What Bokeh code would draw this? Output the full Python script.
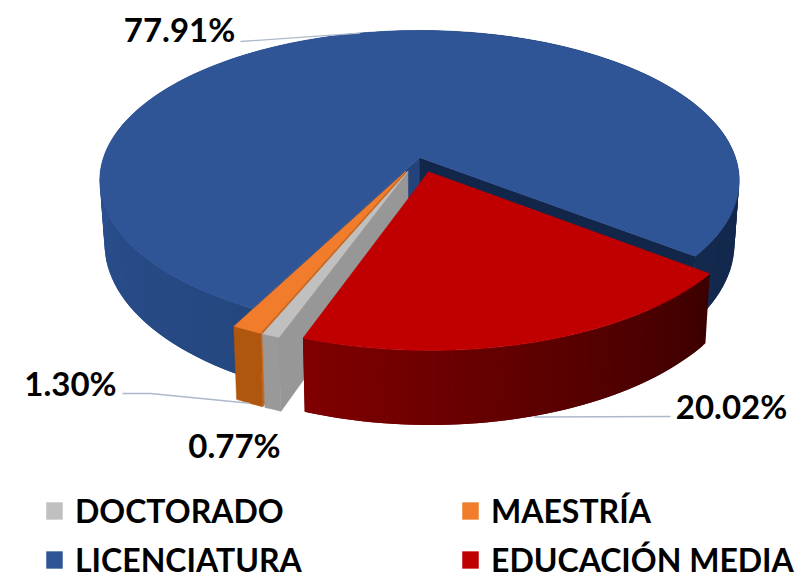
import math
from bokeh.plotting import figure
from bokeh.models import Legend, LegendItem
from bokeh.core.properties import value
from bokeh.embed import file_html
from bokeh.resources import INLINE

# ---- data -------------------------------------------------------------
categories = ["EDUCACIÓN MEDIA", "DOCTORADO", "MAESTRÍA", "LICENCIATURA"]
shares = [20.02, 0.77, 1.30, 77.91]
exploded = [0.1, 0.1, 0.1, 0.0]
top_colors = ["#c00000", "#c0c0c0", "#f17d2c", "#2f5597"]
pct_labels = ["20.02%", "0.77%", "1.30%", "77.91%"]

# ---- projection of the tilted pie ---------------------------------------
START = 127.7
CX, CY, A, B, C = 419.0, 157.0, 146.5, 316.0, -0.153


def proj(u, v, bottom=False):
    d = 1 + C * v
    x = CX + B * u / d
    y = CY + A * v / d
    if bottom:
        y = y + 62 + 0.065 * (y - CY)
        x = CX + (x - CX) * 0.985
    return x, y


def polar(t, off=(0.0, 0.0), r=1.0):
    a = math.radians(t)
    return r * math.sin(a) + off[0], -r * math.cos(a) + off[1]


def lerp_hex(c1, c2, f):
    a = [int(c1[i:i + 2], 16) for i in (1, 3, 5)]
    b = [int(c2[i:i + 2], 16) for i in (1, 3, 5)]
    return "#%02x%02x%02x" % tuple(round(p + (q - p) * f) for p, q in zip(a, b))


W, H = 803, 579
p = figure(width=W, height=H, x_range=(0, W), y_range=(H, 0),
           output_backend="svg", toolbar_location=None, min_border=0,
           outline_line_color=None)
p.axis.visible = False
p.grid.visible = False

# slice geometry from shares
slices = []
t = START
for cat, s, e in zip(categories, shares, exploded):
    span = s * 3.6
    mid = t + span / 2
    off = polar(mid, r=e)
    slices.append(dict(cat=cat, t0=t, t1=t + span, mid=mid, off=off))
    t += span
red, gray, orange, blue = slices


def top_poly(sl, n=180):
    pts = [proj(*sl["off"])]
    for i in range(n + 1):
        th = sl["t0"] + (sl["t1"] - sl["t0"]) * i / n
        pts.append(proj(*polar(th, sl["off"])))
    return [q[0] for q in pts], [q[1] for q in pts]


def side_quads(sl, colorfn, n=60):
    xs, ys, cols = [], [], []
    for i in range(n):
        a0 = sl["t0"] + (sl["t1"] - sl["t0"]) * i / n
        a1 = sl["t0"] + (sl["t1"] - sl["t0"]) * min(i + 2, n) / n  # overlap the next step: no seams
        q = [proj(*polar(a0, sl["off"])), proj(*polar(a1, sl["off"])),
             proj(*polar(a1, sl["off"]), bottom=True), proj(*polar(a0, sl["off"]), bottom=True)]
        xs.append([k[0] for k in q])
        ys.append([k[1] for k in q])
        cols.append(colorfn(sl["t0"] + (sl["t1"] - sl["t0"]) * (i + 0.5) / n))
    p.patches(xs, ys, fill_color=cols, line_color=None)


def side_solid(sl, color, n=8):
    ths = [sl["t0"] + (sl["t1"] - sl["t0"]) * i / n for i in range(n + 1)]
    up = [proj(*polar(th, sl["off"])) for th in ths]
    dn = [proj(*polar(th, sl["off"]), bottom=True) for th in reversed(ths)]
    q = up + dn
    p.patch([k[0] for k in q], [k[1] for k in q], fill_color=color, line_color=color, line_width=0.5)


def wall(sl, th, color):
    q = [proj(*sl["off"]), proj(*polar(th, sl["off"])),
         proj(*polar(th, sl["off"]), bottom=True), proj(*sl["off"], bottom=True)]
    p.patch([k[0] for k in q], [k[1] for k in q], fill_color=color, line_color=color, line_width=0.5)


def top(sl, color):
    xs, ys = top_poly(sl)
    return p.patches([xs], [ys], fill_color=color, line_color=color, line_width=0.5)


# blue slice
def blue_col(th):
    th = th % 360
    if th < 180:  # right-hand side
        return lerp_hex("#0f2342", "#14294e", min(1, th / 130))
    return lerp_hex("#25477f", "#2b5091", min(1, max(0, (th - 207) / 70)))


side_quads(blue, blue_col, n=140)
wall(blue, blue["t0"], "#23437a")
wall(blue, blue["t1"] % 360, "#12264a")
r_blue = top(blue, top_colors[3])

# orange slice
wall(orange, orange["t0"], "#c8661c")
side_solid(orange, "#b0570f")
r_orange = top(orange, top_colors[2])

# gray slice
wall(gray, gray["t0"], "#979797")
side_solid(gray, "#999999")
r_gray = top(gray, top_colors[1])

# red slice
side_quads(red, lambda th: lerp_hex("#3c0000", "#800000", (th - red["t0"]) / (red["t1"] - red["t0"])), n=80)
r_red = top(red, top_colors[0])

# leader lines
LEADER = "#adb9ca"
ax, ay = proj(*polar(blue["mid"], blue["off"]))
p.line([240, ax], [41, ay], line_color=LEADER, line_width=1.3)
ax, ay = proj(*polar(red["mid"], red["off"]), bottom=True)
p.line([ax, 670], [ay + 1, 416], line_color=LEADER, line_width=1.3)
ax, ay = proj(*polar(orange["mid"], orange["off"]), bottom=True)
p.line([122, 150, ax], [393, 393, ay], line_color=LEADER, line_width=1.3)

# percent labels
font = value("Lato")
lab_x = [731, 234, 70, 179]
lab_y = [405, 444, 382, 28]
p.text(lab_x, lab_y, text=pct_labels, text_font=font, text_font_style="bold",
       text_font_size="33px", text_color="#000000", text_align="center", text_baseline="middle")

# legends
common = dict(glyph_width=20, glyph_height=21, label_standoff=11, padding=0, margin=0,
              spacing=10, border_line_color=None, background_fill_color=None,
              label_text_font="Lato", label_text_font_style="bold", label_text_font_size="32px",
              label_text_color="#000000", label_height=21, label_text_baseline="middle")
leg1 = Legend(items=[LegendItem(label="DOCTORADO", renderers=[r_gray]),
                     LegendItem(label="LICENCIATURA", renderers=[r_blue])],
              location=(44, 0), **common)
leg2 = Legend(items=[LegendItem(label="MAESTRÍA", renderers=[r_orange]),
                     LegendItem(label="EDUCACIÓN MEDIA", renderers=[r_red])],
              location=(460, 0), **common)
p.add_layout(leg1)
p.add_layout(leg2)

open("out.html", "w").write(file_html(p, INLINE))
